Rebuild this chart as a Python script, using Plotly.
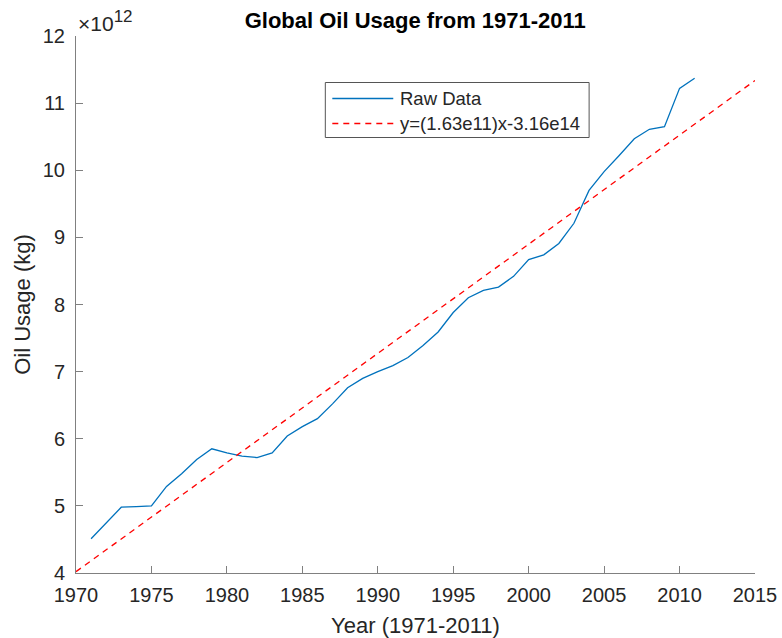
import plotly.graph_objects as go

# Global oil usage, kg per year
years = list(range(1971, 2012))
oil_usage_kg = [
    4.51e12, 4.745e12, 4.98e12, 4.99e12, 5.00e12, 5.29e12, 5.48e12, 5.69e12, 5.85e12, 5.79e12,
    5.74e12, 5.72e12, 5.79e12, 6.04e12, 6.18e12, 6.30e12, 6.52e12, 6.76e12, 6.90e12, 7.00e12,
    7.09e12, 7.21e12, 7.39e12, 7.59e12, 7.88e12, 8.10e12, 8.21e12, 8.26e12, 8.42e12, 8.67e12,
    8.74e12, 8.91e12, 9.21e12, 9.70e12, 9.98e12, 10.22e12, 10.47e12, 10.61e12, 10.65e12, 11.22e12,
    11.37e12,
]

# Linear fit coefficients (kg per year, kg)
fit_slope = 1.626e11
fit_intercept = -3.16302e14
fit_years = [1970, 2015]

x_ticks = [1970, 1975, 1980, 1985, 1990, 1995, 2000, 2005, 2010, 2015]
y_tick_units = [4, 5, 6, 7, 8, 9, 10, 11, 12]
y_scale = 1e12


def sci(v):
    mant, exp = f"{v:.2e}".split("e")
    return f"{mant}e{int(exp)}"


fit_values = [fit_slope * yr + fit_intercept for yr in fit_years]
fit_label = f"y=({sci(fit_slope)})x-{sci(abs(fit_intercept))}"

blue = "#0072BD"
red = "#FF0000"
axis_grey = "#808080"
text_grey = "#262626"
font_family = "Liberation Sans, Arial, sans-serif"

W, H = 782, 638
M_L, M_R, M_T, M_B = 75.5, 27, 36, 65
plot_w = W - M_L - M_R
plot_h = H - M_T - M_B


def px_to_paper(px, py):
    return (px - M_L) / plot_w, (H - M_B - py) / plot_h


fig = go.Figure()
fig.add_trace(go.Scatter(
    x=years, y=oil_usage_kg, mode="lines", name="Raw Data",
    line=dict(color=blue, width=1.3), showlegend=False,
))
fig.add_trace(go.Scatter(
    x=fit_years, y=fit_values, mode="lines", name=fit_label,
    line=dict(color=red, width=1.3, dash="6px,5px"), showlegend=False,
))

fig.update_layout(
    width=W, height=H,
    margin=dict(l=M_L, r=M_R, t=M_T, b=M_B, autoexpand=False),
    paper_bgcolor="white", plot_bgcolor="white",
    font=dict(family=font_family, size=20, color=text_grey),
    title=dict(
        text="<b>Global Oil Usage from 1971-2011</b>",
        x=(M_L + plot_w / 2) / W, xanchor="center", y=1 - 20 / H, yanchor="middle",
        font=dict(size=22, color="black"),
    ),
    xaxis=dict(
        range=[1970, 2015], tickvals=x_ticks, ticks="inside", ticklen=7,
        tickcolor=axis_grey, showline=True, linecolor=axis_grey, linewidth=1,
        showgrid=False, zeroline=False, ticklabelstandoff=4, automargin=False,
        tickfont=dict(size=20, color=text_grey),
        title=dict(text="Year (1971-2011)", font=dict(size=22, color=text_grey), standoff=12),
    ),
    yaxis=dict(
        range=[4 * y_scale, 12 * y_scale],
        tickvals=[v * y_scale for v in y_tick_units],
        ticktext=[str(v) for v in y_tick_units],
        ticks="inside", ticklen=7, tickcolor=axis_grey,
        showline=True, linecolor=axis_grey, linewidth=1,
        showgrid=False, zeroline=False, ticklabelstandoff=6, automargin=False,
        tickfont=dict(size=20, color=text_grey),
        title=dict(text="Oil Usage (kg)", font=dict(size=22, color=text_grey), standoff=6),
    ),
)

# Exponent marker for the y axis
fig.add_annotation(
    xref="paper", yref="paper", x=0.0, y=1.0, xanchor="left", yanchor="bottom",
    xshift=0, yshift=-1,
    text="\u00d710<sup><span style='font-size:17px'>12</span></sup>", showarrow=False,
    font=dict(size=21, color=text_grey),
)

# Legend box with long line samples
x0, y0 = px_to_paper(325, 82.5)
x1, y1 = px_to_paper(589, 137.5)
fig.add_shape(type="rect", xref="paper", yref="paper", x0=x0, y0=y0, x1=x1, y1=y1,
              line=dict(color="#555555", width=1), fillcolor="white", layer="above")

legend_rows = [
    (fig.data[0].name, blue, "solid", 98.5),
    (fig.data[1].name, red, "6px,5px", 123.5),
]
for label, color, dash, row_y in legend_rows:
    lx0, ly = px_to_paper(332, row_y)
    lx1, _ = px_to_paper(393, row_y)
    fig.add_shape(type="line", xref="paper", yref="paper", x0=lx0, y0=ly, x1=lx1, y1=ly,
                  line=dict(color=color, width=1.3, dash=dash), layer="above")
    tx, _ = px_to_paper(398, row_y)
    fig.add_annotation(xref="paper", yref="paper", x=tx, y=ly, xanchor="left", yanchor="middle",
                       text=label, showarrow=False,
                       font=dict(size=18.5, color=text_grey))

fig.write_html("out.html")
